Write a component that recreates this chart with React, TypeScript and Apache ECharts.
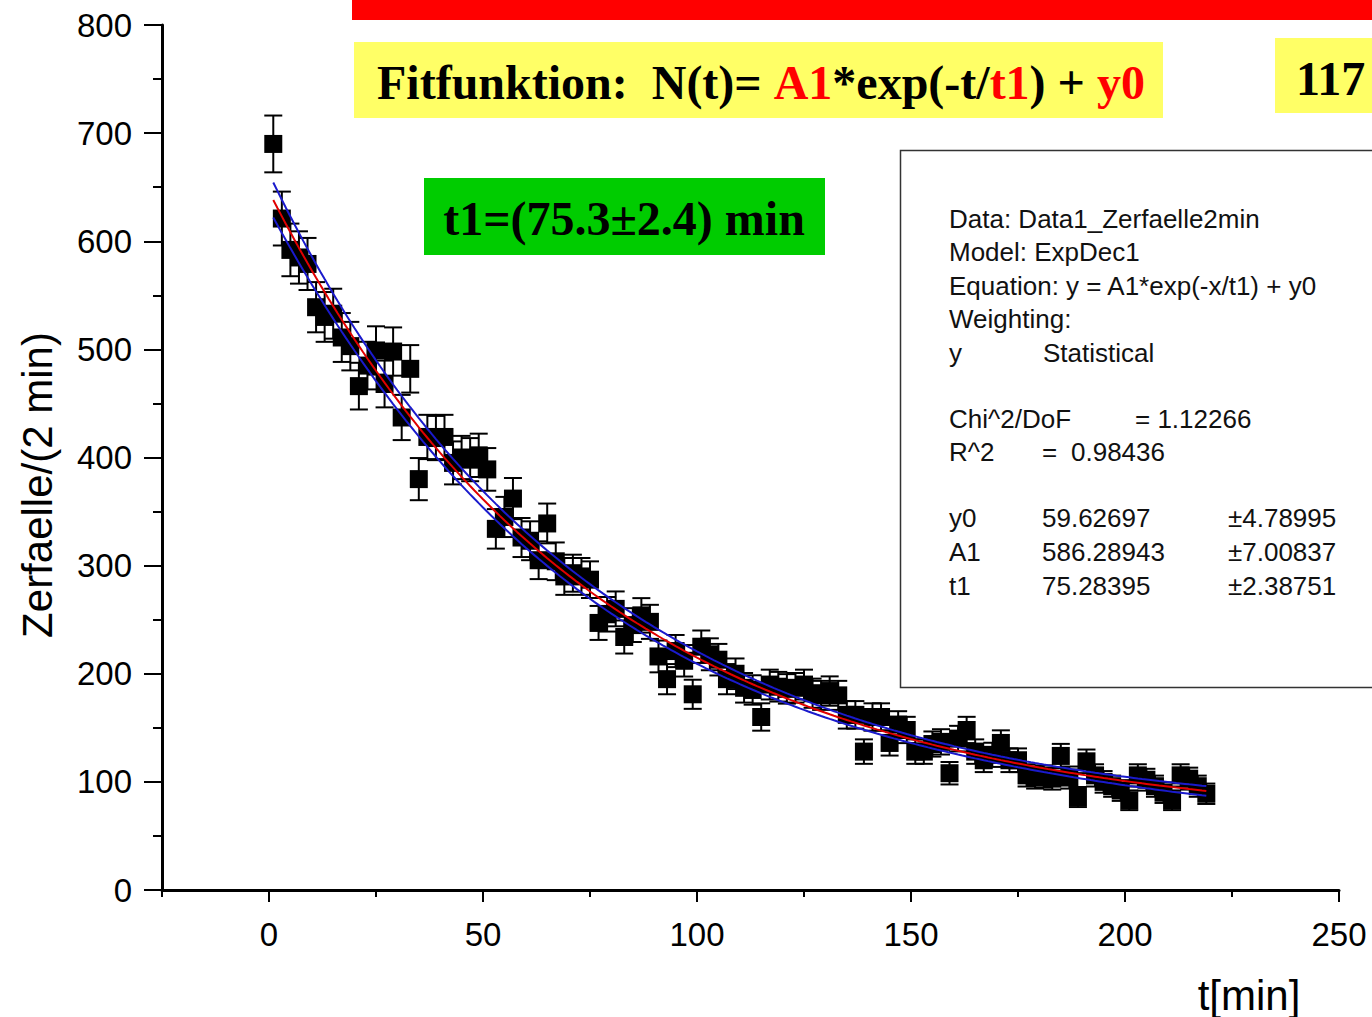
import React, { useEffect, useRef } from "react";
import * as echarts from "echarts";

// measurement times [min] (centre of each 2-min interval)
const times = [
  1, 3, 5, 7, 9, 11, 13, 15, 17, 19, 21, 23, 25, 27, 29, 31, 33, 35, 37, 39,
  41, 43, 45, 47, 49, 51, 53, 55, 57, 59, 61, 63, 65, 67, 69, 71, 73, 75, 77, 79,
  81, 83, 85, 87, 89, 91, 93, 95, 97, 99, 101, 103, 105, 107, 109, 111, 113, 115, 117, 119,
  121, 123, 125, 127, 129, 131, 133, 135, 137, 139, 141, 143, 145, 147, 149, 151, 153, 155, 157, 159,
  161, 163, 165, 167, 169, 171, 173, 175, 177, 179, 181, 183, 185, 187, 189, 191, 193, 195, 197, 199,
  201, 203, 205, 207, 209, 211, 213, 215, 217, 219,
];
// decays per 2 min
const counts = [
  690, 621, 592, 585, 579, 539, 530, 533, 511, 503, 466, 485, 499, 468, 498, 437, 482, 380, 419, 418,
  419, 395, 400, 398, 402, 389, 334, 345, 362, 326, 323, 305, 339, 304, 290, 293, 290, 287, 247, 255,
  260, 234, 245, 254, 248, 216, 195, 221, 212, 181, 225, 218, 213, 195, 200, 187, 185, 160, 190, 188,
  186, 187, 190, 182, 180, 184, 180, 162, 162, 128, 160, 160, 136, 153, 148, 128, 128, 135, 137, 108,
  140, 148, 128, 120, 125, 136, 120, 120, 106, 104, 105, 103, 124, 104, 86, 119, 106, 100, 96, 92,
  83, 106, 102, 96, 90, 83, 106, 103, 96, 89,
];

// fit result (y0, A1, t1) and standard errors, as printed in the box
const fitNames = ["y0", "A1", "t1"];
const fitValues = [59.62697, 586.28943, 75.28395];
const fitErrors = [4.78995, 7.00837, 2.38751];
const fitValueText = ["59.62697", "586.28943", "75.28395"];
const fitErrorText = ["\u00b14.78995", "\u00b17.00837", "\u00b12.38751"];
// assumed parameter correlations (y0-A1, y0-t1, A1-t1) for the confidence band
const fitCorr = [0, -0.93, -0.1];
const fitRange = [1, 219];

const xMajorTicks = [0, 50, 100, 150, 200, 250];

const statLines = [
  "Data: Data1_Zerfaelle2min",
  "Model: ExpDec1",
  "Equation: y = A1*exp(-x/t1) + y0",
  "Weighting:",
];

const SANS = "'Liberation Sans', Arial, sans-serif";
const SERIF = "'Liberation Serif', 'Times New Roman', serif";

function fitCurves() {
  const [y0, A, t1] = fitValues;
  const [sy0, sA, st1] = fitErrors;
  const mid: number[][] = [];
  const up: number[][] = [];
  const lo: number[][] = [];
  for (let t = fitRange[0]; t <= fitRange[1]; t += 1) {
    const e = Math.exp(-t / t1);
    const f = A * e + y0;
    const g0 = 1;
    const g1 = e;
    const g2 = (A * t * e) / (t1 * t1);
    const v =
      g0 * g0 * sy0 * sy0 +
      g1 * g1 * sA * sA +
      g2 * g2 * st1 * st1 +
      2 * g0 * g1 * fitCorr[0] * sy0 * sA +
      2 * g0 * g2 * fitCorr[1] * sy0 * st1 +
      2 * g1 * g2 * fitCorr[2] * sA * st1;
    const h = 1.96 * Math.sqrt(Math.max(v, 0));
    mid.push([t, f]);
    up.push([t, f + h]);
    lo.push([t, f - h]);
  }
  return { mid, up, lo };
}

function txt(x: number, y: number, text: string, size: number, opts: any = {}) {
  const align = opts.align || "left";
  const valign = opts.valign || "middle";
  return {
    type: "text",
    x,
    y,
    rotation: opts.rotation || 0,
    z: 10,
    style: {
      text,
      fill: opts.color || "#000",
      fontSize: size,
      fontFamily: opts.family || SANS,
      fontWeight: opts.weight || "normal",
      align,
      textAlign: align,
      verticalAlign: valign,
      textVerticalAlign: valign,
      rich: opts.rich,
    },
  };
}

export default function App() {
  const ref = useRef<HTMLDivElement>(null);
  useEffect(() => {
    const chart = echarts.init(ref.current!, null, { renderer: "svg" });
    const { mid, up, lo } = fitCurves();
    const pts = times.map((t, i) => [t, counts[i]]);
    const errData = times.map((t, i) => [t, counts[i], Math.sqrt(counts[i])]);

    const statX = 949;
    const lineY = [219, 252, 286, 319];
    const graphics: any[] = [
      // banners / boxes
      { type: "rect", z: 5, shape: { x: 352, y: 0, width: 1030, height: 20 }, style: { fill: "#ff0000" } },
      { type: "rect", z: 5, shape: { x: 354, y: 42, width: 809, height: 76 }, style: { fill: "#ffff66" } },
      { type: "rect", z: 5, shape: { x: 1275, y: 38, width: 110, height: 75 }, style: { fill: "#ffff66" } },
      { type: "rect", z: 5, shape: { x: 424, y: 178, width: 401, height: 77 }, style: { fill: "#00cc00" } },
      {
        type: "rect",
        z: 5,
        shape: { x: 900.5, y: 150.5, width: 500, height: 537 },
        style: { fill: "none", stroke: "#333", lineWidth: 1.5 },
      },
      txt(377, 82, "Fitfunktion:  N(t)= {r|A1}*exp(-t/{r|t1}) + {r|y0}", 48, {
        family: SERIF,
        weight: "bold",
        rich: {
          r: { fill: "#ff0000", color: "#ff0000", fontSize: 48, fontFamily: SERIF, fontWeight: "bold" },
        },
      }),
      txt(1296, 78, "117", 48, { family: SERIF, weight: "bold" }),
      txt(624, 218, "t1=(75.3\u00b12.4) min", 48, { family: SERIF, weight: "bold", align: "center" }),
      // axis titles
      txt(37, 485, "Zerfaelle/(2 min)", 42, { align: "center", rotation: Math.PI / 2 }),
      txt(1249, 995, "t[min]", 42, { align: "center" }),
    ];
    statLines.forEach((s, i) => graphics.push(txt(statX, lineY[i], s, 26, { color: "#111" })));
    graphics.push(txt(statX, 353, "y", 26, { color: "#111" }));
    graphics.push(txt(1043, 353, "Statistical", 26, { color: "#111" }));
    graphics.push(txt(statX, 419, "Chi^2/DoF", 26, { color: "#111" }));
    graphics.push(txt(1135, 419, "= 1.12266", 26, { color: "#111" }));
    graphics.push(txt(statX, 452, "R^2", 26, { color: "#111" }));
    graphics.push(txt(1042, 452, "=", 26, { color: "#111" }));
    graphics.push(txt(1071, 452, "0.98436", 26, { color: "#111" }));
    fitNames.forEach((n, i) => {
      const y = 518 + i * 34;
      graphics.push(txt(statX, y, n, 26, { color: "#111" }));
      graphics.push(txt(1042, y, fitValueText[i], 26, { color: "#111" }));
      graphics.push(txt(1228, y, fitErrorText[i], 26, { color: "#111" }));
    });

    const option: any = {
      animation: false,
      backgroundColor: "#fff",
      grid: { left: 162, right: 33, top: 25, bottom: 127, containLabel: false },
      xAxis: [
        {
          type: "value",
          min: -25,
          max: 250,
          position: "bottom",
          axisLine: { onZero: false, lineStyle: { color: "#000", width: 3 } },
          axisTick: { customValues: xMajorTicks, length: 12, lineStyle: { color: "#000", width: 2 } },
          axisLabel: {
            customValues: xMajorTicks,
            fontSize: 33,
            fontFamily: SANS,
            color: "#000",
            margin: 28,
          },
          splitLine: { show: false },
        },
        {
          type: "value",
          min: -25,
          max: 250,
          interval: 25,
          position: "bottom",
          axisLine: { show: false, onZero: false },
          axisTick: { length: 7, lineStyle: { color: "#000", width: 2 } },
          axisLabel: { show: false },
          splitLine: { show: false },
        },
      ],
      yAxis: [
        {
          type: "value",
          min: 0,
          max: 800,
          interval: 100,
          position: "left",
          axisLine: { show: true, onZero: false, lineStyle: { color: "#000", width: 3 } },
          axisTick: { show: true, length: 18, lineStyle: { color: "#000", width: 2 } },
          axisLabel: { fontSize: 33, fontFamily: SANS, color: "#000", margin: 30 },
          splitLine: { show: false },
        },
        {
          type: "value",
          min: 0,
          max: 800,
          interval: 50,
          position: "left",
          axisLine: { show: false, onZero: false },
          axisTick: { show: true, length: 9, lineStyle: { color: "#000", width: 2 } },
          axisLabel: { show: false },
          splitLine: { show: false },
        },
      ],
      series: [
        {
          type: "custom",
          name: "err",
          xAxisIndex: 0,
          yAxisIndex: 0,
          data: errData,
          z: 2,
          renderItem: (params: any, api: any) => {
            const x = api.value(0);
            const y = api.value(1);
            const e = api.value(2);
            const top = api.coord([x, y + e]);
            const bot = api.coord([x, y - e]);
            const hw = 9;
            const st = { stroke: "#000", lineWidth: 2 };
            return {
              type: "group",
              children: [
                { type: "line", shape: { x1: top[0], y1: top[1], x2: bot[0], y2: bot[1] }, style: st },
                { type: "line", shape: { x1: top[0] - hw, y1: top[1], x2: top[0] + hw, y2: top[1] }, style: st },
                { type: "line", shape: { x1: bot[0] - hw, y1: bot[1], x2: bot[0] + hw, y2: bot[1] }, style: st },
              ],
            };
          },
        },
        {
          type: "scatter",
          name: "data",
          xAxisIndex: 0,
          yAxisIndex: 0,
          data: pts,
          symbol: "rect",
          symbolSize: 18,
          itemStyle: { color: "#000", opacity: 1 },
          z: 3,
        },
        {
          type: "line",
          name: "upper",
          xAxisIndex: 0,
          yAxisIndex: 0,
          data: up,
          showSymbol: false,
          lineStyle: { color: "#1a1acc", width: 2 },
          z: 4,
        },
        {
          type: "line",
          name: "lower",
          xAxisIndex: 0,
          yAxisIndex: 0,
          data: lo,
          showSymbol: false,
          lineStyle: { color: "#1a1acc", width: 2 },
          z: 4,
        },
        {
          type: "line",
          name: "fit",
          xAxisIndex: 0,
          yAxisIndex: 0,
          data: mid,
          showSymbol: false,
          lineStyle: { color: "#e00000", width: 2 },
          z: 5,
        },
      ],
      graphic: graphics,
    };
    chart.setOption(option);
    return () => chart.dispose();
  }, []);
  return (
    <div
      ref={ref}
      style={{ position: "fixed", left: 0, top: 0, width: 1372, height: 1017, background: "#fff" }}
    />
  );
}
